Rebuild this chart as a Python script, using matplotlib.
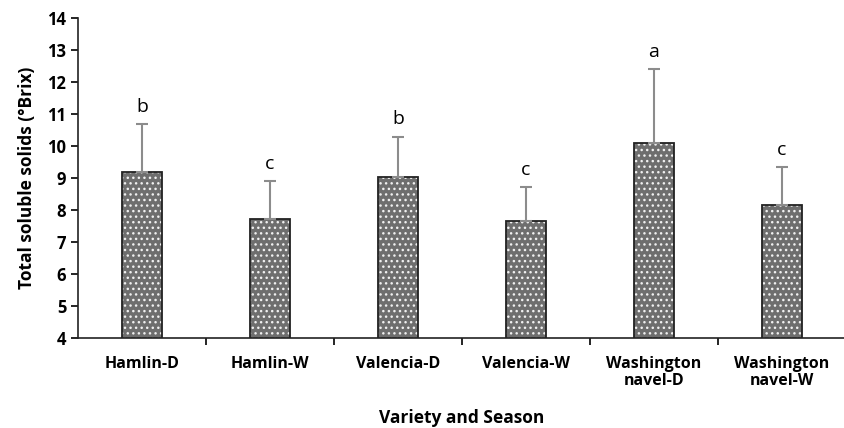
import matplotlib
matplotlib.use("Agg")
import matplotlib.pyplot as plt
import numpy as np

categories = ["Hamlin-D", "Hamlin-W", "Valencia-D", "Valencia-W", "Washington\nnavel-D", "Washington\nnavel-W"]
means = [9.19, 7.72, 9.02, 7.66, 10.08, 8.17]
errors = [1.50, 1.19, 1.27, 1.06, 2.33, 1.16]
letters = ["b", "c", "b", "c", "a", "c"]

plt.rcParams['font.family'] = ['Open Sans', 'DejaVu Sans']
plt.rcParams['hatch.linewidth'] = 1.0

fig = plt.figure(figsize=(8.45, 4.28), dpi=100)
ax = fig.add_axes([78/845, 1-338/428, (846-78)/845, (338-18)/428])

x = np.arange(len(categories))
ax.bar(x, means, width=0.32, color='#6e6e6e', edgecolor='#f0f0f0', hatch='...', linewidth=0, zorder=2)
ax.bar(x, means, width=0.32, fill=False, edgecolor='#222222', linewidth=1.3, zorder=3)
ax.errorbar(x, means, yerr=[np.zeros(len(means)), errors], fmt='none', ecolor='#8c8c8c', elinewidth=1.5, capsize=4, capthick=1.5, zorder=4)

for xi, m, e, l in zip(x, means, errors, letters):
    ax.annotate(l, (xi, m + e), xytext=(0, 6), textcoords='offset points', ha='center', va='bottom', fontsize=14)

ax.set_xlim(-0.5, len(categories) - 0.5)
ax.set_ylim(4, 14)
ax.set_yticks(np.arange(4, 15, 1))
ax.set_xticks(x)
ax.set_xticklabels(categories, fontweight='bold', fontsize=11.5, linespacing=1.1)
ax.set_xticks(np.arange(0.5, len(categories) - 0.5, 1), minor=True)
ax.tick_params(axis='x', which='major', length=0, pad=13)
ax.tick_params(axis='x', which='minor', length=5, direction='out', width=1.2)
ax.tick_params(axis='y', length=5, width=1.2, labelsize=12)
for lab in ax.get_yticklabels():
    lab.set_fontweight('bold')
for s in ['top', 'right']:
    ax.spines[s].set_visible(False)
for s in ['left', 'bottom']:
    ax.spines[s].set_linewidth(1.2)
    ax.spines[s].set_color('#222222')

ax.set_ylabel("Total soluble solids (°Brix)", fontweight='bold', fontsize=12.5, labelpad=8)
ax.set_xlabel("Variety and Season", fontweight='bold', fontsize=12.5, labelpad=14)

fig.savefig("out.png", dpi=100)
